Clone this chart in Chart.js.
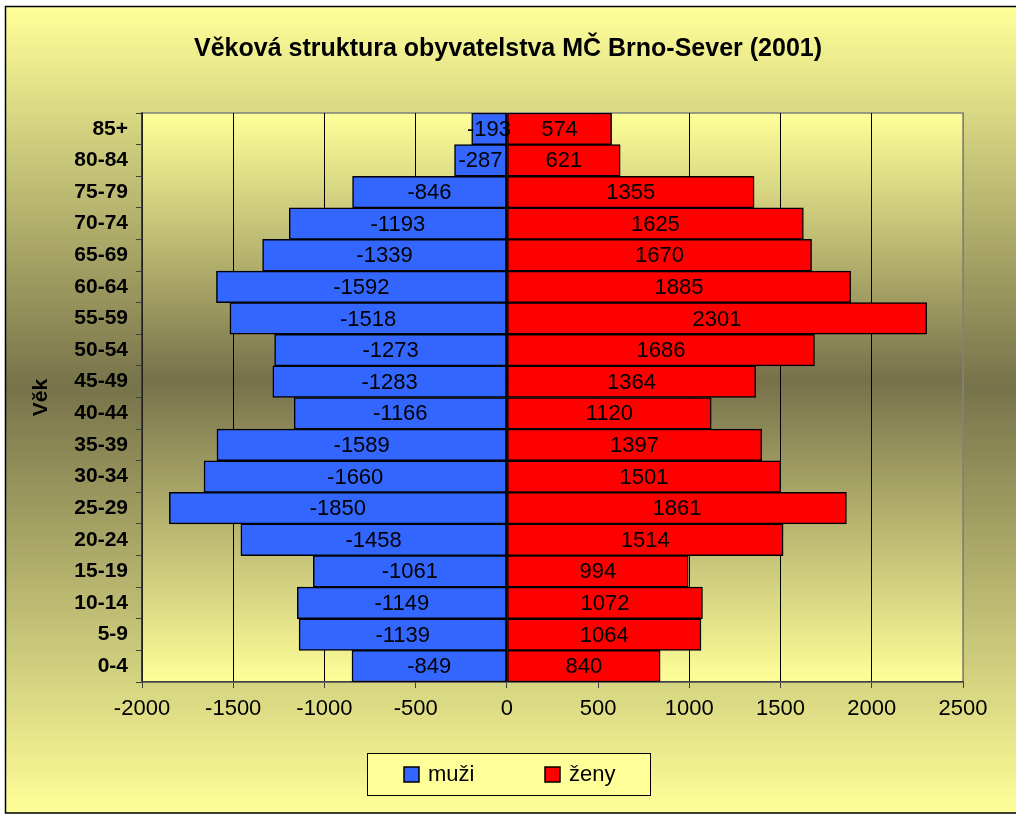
<!DOCTYPE html>
<html lang="cs">
<head>
  <meta charset="UTF-8">
  <title>Věková struktura obyvatelstva MČ Brno-Sever (2001)</title>
  <script src="https://cdn.jsdelivr.net/npm/chart.js@4.4.1/dist/chart.umd.min.js"></script>
  <style>
    body { margin: 0; background: #fff; }
  </style>
</head>
<body>
  <canvas id="myChart" width="1016" height="814"></canvas>

  <script>
    const title = 'Věková struktura obyvatelstva MČ Brno-Sever (2001)';
    const ageGroups = ['0-4', '5-9', '10-14', '15-19', '20-24', '25-29', '30-34', '35-39', '40-44',
                       '45-49', '50-54', '55-59', '60-64', '65-69', '70-74', '75-79', '80-84', '85+'];
    const men = [-849, -1139, -1149, -1061, -1458, -1850, -1660, -1589, -1166,
                 -1283, -1273, -1518, -1592, -1339, -1193, -846, -287, -193];
    const women = [840, 1064, 1072, 994, 1514, 1861, 1501, 1397, 1120,
                   1364, 1686, 2301, 1885, 1670, 1625, 1355, 621, 574];
    const seriesNames = ['muži', 'ženy'];
    const xMin = -2000, xMax = 2500, xStep = 500;

    const FONT = 'Arial, "Liberation Sans", sans-serif';
    Chart.defaults.font.family = FONT;
    Chart.defaults.color = '#000';

    const colors = ['#3366ff', '#ff0000'];

    // Excel-like backgrounds: outer chart area and plot area gradients
    const backgroundPlugin = {
      id: 'background',
      beforeDraw(chart) {
        const {ctx, width, height, chartArea: a} = chart;
        ctx.save();
        let g = ctx.createLinearGradient(0, 7, 0, height);
        g.addColorStop(0, '#ffff99');
        g.addColorStop(0.47, '#77734a');
        g.addColorStop(1, '#ffff99');
        ctx.fillStyle = g;
        ctx.fillRect(6, 7, width, height - 8);
        ctx.strokeStyle = '#000';
        ctx.lineWidth = 1.5;
        ctx.strokeRect(5.5, 6.5, width + 10, height - 7.5);

        g = ctx.createLinearGradient(0, a.top, 0, a.bottom);
        g.addColorStop(0, '#ffff99');
        g.addColorStop(0.47, '#76714a');
        g.addColorStop(1, '#ffff99');
        ctx.fillStyle = g;
        ctx.fillRect(a.left, a.top, a.width, a.height);
        ctx.strokeStyle = '#808080';
        ctx.lineWidth = 1.5;
        ctx.strokeRect(a.left, a.top, a.width, a.height);
        ctx.restore();
      }
    };

    // value labels centred in each bar
    const labelsPlugin = {
      id: 'barLabels',
      afterDatasetsDraw(chart) {
        const ctx = chart.ctx;
        ctx.save();
        ctx.font = '22px ' + FONT;
        ctx.fillStyle = '#000';
        ctx.textAlign = 'center';
        ctx.textBaseline = 'middle';
        chart.data.datasets.forEach((ds, i) => {
          chart.getDatasetMeta(i).data.forEach((bar, j) => {
            ctx.fillText(String(ds.data[j]), (bar.x + bar.base) / 2, bar.y + 1);
          });
        });
        ctx.restore();
      }
    };

    // title and boxed legend like the Excel original
    const decorPlugin = {
      id: 'decor',
      afterDraw(chart) {
        const ctx = chart.ctx;
        ctx.save();
        ctx.fillStyle = '#000';
        ctx.font = 'bold 25px ' + FONT;
        ctx.textAlign = 'center';
        ctx.textBaseline = 'middle';
        ctx.fillText(title, 508, 49);

        ctx.fillStyle = '#ffff99';
        ctx.fillRect(367, 753, 283, 42);
        ctx.strokeStyle = '#000';
        ctx.lineWidth = 1;
        ctx.strokeRect(367.5, 753.5, 283, 42);

        const boxX = [404, 545];
        ctx.font = '22px ' + FONT;
        ctx.textAlign = 'left';
        chart.data.datasets.forEach((ds, i) => {
          ctx.fillStyle = ds.backgroundColor;
          ctx.fillRect(boxX[i], 767, 15, 15);
          ctx.lineWidth = 1.5;
          ctx.strokeRect(boxX[i], 767, 15, 15);
          ctx.fillStyle = '#000';
          ctx.fillText(ds.label, boxX[i] + 24, 775);
        });
        ctx.restore();
      }
    };

    const ctx = document.getElementById('myChart').getContext('2d');
    const myChart = new Chart(ctx, {
      type: 'bar',
      data: {
        labels: ageGroups,
        datasets: [men, women].map((values, i) => ({
          label: seriesNames[i],
          data: values,
          backgroundColor: colors[i],
          borderColor: '#000',
          borderWidth: 1.5,
          borderSkipped: false,
          barPercentage: 1,
          categoryPercentage: 1
        }))
      },
      options: {
        indexAxis: 'y',
        responsive: false,
        animation: false,
        layout: { padding: { left: 5, right: 53, top: 113, bottom: 0 } },
        plugins: {
          legend: { display: false },
          tooltip: { enabled: false }
        },
        scales: {
          x: {
            stacked: true,
            min: xMin,
            max: xMax,
            ticks: { stepSize: xStep, font: { size: 22 }, padding: 8, color: '#000',
                     callback: v => String(v) },
            grid: {
              color: c => (c.tick && c.tick.value === xMax) ? '#808080' : '#000',
              lineWidth: 1,
              tickLength: 6,
              tickColor: '#404040'
            },
            border: { color: '#404040', width: 1.5 },
            afterFit: s => { s.height = 132; }
          },
          y: {
            stacked: true,
            reverse: true,
            ticks: { font: { size: 21, weight: 'bold' }, padding: 8, color: '#000' },
            grid: { offset: true, drawOnChartArea: false, tickLength: 6, color: '#404040' },
            border: { color: '#404040', width: 1.5 },
            title: {
              display: true,
              text: 'Věk',
              font: { size: 21, weight: 'bold' },
              color: '#000',
              padding: { top: 24, bottom: 0 }
            },
            afterFit: s => { s.width = 137; }
          }
        }
      },
      plugins: [backgroundPlugin, labelsPlugin, decorPlugin]
    });
  </script>
</body>
</html>
